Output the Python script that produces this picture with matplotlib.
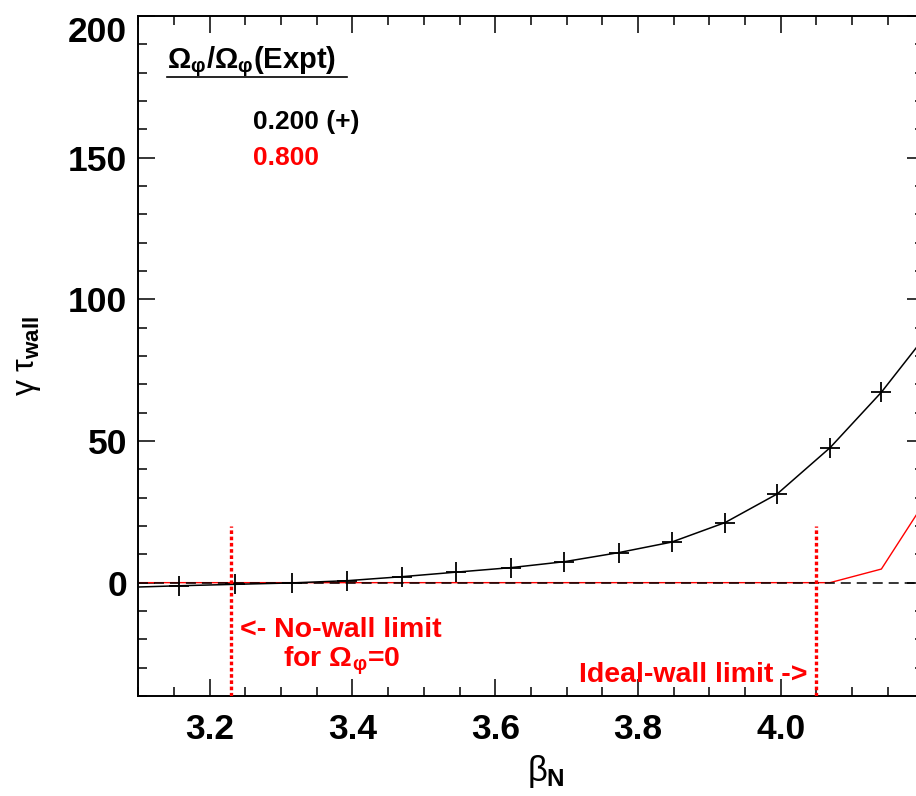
import matplotlib
matplotlib.use("Agg")
import matplotlib.pyplot as plt
from matplotlib.ticker import MultipleLocator, FixedLocator

# Growth rate vs. normalized beta for two rotation scalings
beta_n = [3.079, 3.157, 3.235, 3.315, 3.393, 3.469, 3.545, 3.622, 3.697,
          3.773, 3.847, 3.922, 3.995, 4.069, 4.141, 4.212]
growth_020 = [-1.7, -1.1, -0.6, -0.1, 0.7, 2.1, 3.7, 5.3, 7.4,
              10.6, 14.3, 21.2, 31.3, 47.6, 67.2, 90.0]
growth_080 = [0.0, 0.0, 0.0, 0.0, 0.0, 0.0, 0.0, 0.0, 0.0,
              0.0, 0.0, 0.0, 0.0, 0.0, 4.8, 32.5]

no_wall_limit = 3.23
ideal_wall_limit = 4.05
limit_line_top = 20

x_ticks = [3.2, 3.4, 3.6, 3.8, 4.0]
x_tick_labels = ["3.2", "3.4", "3.6", "3.8", "4.0"]
y_ticks = [0, 50, 100, 150, 200]
y_tick_labels = ["0", "50", "100", "150", "200"]

plt.rcParams["font.family"] = ["Liberation Sans", "DejaVu Sans"]
plt.rcParams["mathtext.fontset"] = "custom"
plt.rcParams["mathtext.rm"] = "Liberation Sans"
plt.rcParams["mathtext.it"] = "Liberation Sans"
plt.rcParams["mathtext.bf"] = "Liberation Sans:bold"
plt.rcParams["mathtext.fallback"] = "stixsans"
plt.rcParams["lines.scale_dashes"] = False

RED = "#ff0000"

fig = plt.figure(figsize=(9.16, 7.96), dpi=100)
fig.patch.set_facecolor("white")
ax = fig.add_axes([138.3 / 916, 100 / 796, (923.5 - 138.3) / 916, (696 - 15.9) / 796])

ax.set_xlim(3.1, 4.2)
ax.set_ylim(-40, 200)

# rotation scan at 0.8 of experiment (drawn below the zero reference)
ax.plot(beta_n, growth_080, color=RED, lw=1.0, zorder=2)
# zero growth reference
ax.axhline(0, color="black", lw=1.1, dashes=(7.2, 4.3), zorder=3)
# rotation scan at 0.2 of experiment
ax.plot(beta_n, growth_020, color="black", lw=1.1, marker="+",
        markersize=15, markeredgewidth=1.3, zorder=4)

# stability limits
for xv in (no_wall_limit, ideal_wall_limit):
    ax.plot([xv, xv], [-40, limit_line_top], color=RED, lw=2.4,
            dashes=(2.6, 1.9), zorder=5, dash_capstyle="butt")

ax.text(3.242, -16.7, "<- No-wall limit", color=RED, fontsize=20.5,
        fontweight="bold", ha="left", va="center")
ax.text(3.385, -25.9, r"for $\mathbf{\Omega_{\varphi}}$=0", color=RED, fontsize=20.5,
        fontweight="bold", ha="center", va="center_baseline")
ax.text(4.037, -32.6, "Ideal-wall limit ->", color=RED, fontsize=20.5,
        fontweight="bold", ha="right", va="center")

# legend block
ax.text(3.1397, 185.8, r"$\mathbf{\Omega_{\varphi}/\Omega_{\varphi}(Expt)}$",
        color="black", fontsize=21, ha="left", va="center_baseline")
ax.plot([3.14, 3.392], [178.3, 178.3], color="black", lw=1.2, zorder=5)
ax.text(3.2607, 162.6, "0.200 (+)", color="black", fontsize=19,
        fontweight="bold", ha="left", va="center")
ax.text(3.2607, 149.9, "0.800", color=RED, fontsize=19,
        fontweight="bold", ha="left", va="center")

# axes styling
ax.xaxis.set_major_locator(FixedLocator(x_ticks))
ax.set_xticklabels(x_tick_labels)
ax.xaxis.set_minor_locator(MultipleLocator(0.05))
ax.yaxis.set_major_locator(FixedLocator(y_ticks))
ax.set_yticklabels(y_tick_labels)
ax.yaxis.set_minor_locator(MultipleLocator(10))

ax.tick_params(which="both", direction="in", top=True, right=True,
               width=1.1, color="black")
ax.tick_params(which="major", length=12.5)
ax.tick_params(which="minor", length=6.5)
ax.tick_params(axis="x", which="major", pad=12, labelsize=25.5)
ax.tick_params(axis="y", which="major", pad=8, labelsize=25.5)
for lab in ax.get_xticklabels() + ax.get_yticklabels():
    lab.set_fontweight("bold")
ax.get_yticklabels()[-1].set_va("top")

for sp in ax.spines.values():
    sp.set_linewidth(1.4)

ax.set_xlabel(r"$\beta_{\mathbf{N}}$", fontsize=25, labelpad=5)
ax.xaxis.label.set_x((546 - 138.3) / 785.2)
ax.set_ylabel(r"$\gamma\ \tau_{\mathbf{wall}}$", fontsize=23, labelpad=18)

fig.savefig("out.png", dpi=100, facecolor="white")
